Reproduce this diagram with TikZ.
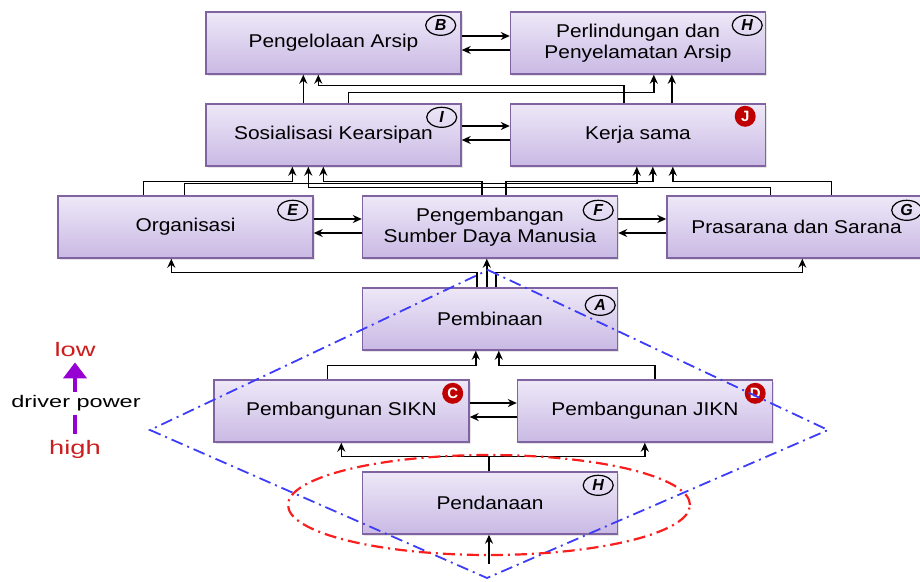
\documentclass[tikz,border=0pt]{standalone}
\usepackage{fontspec}
\setmainfont{Liberation Sans}
\newfontfamily\boxfont{Liberation Sans}[FakeStretch=1.13]
\newfontfamily\legfont{Liberation Sans}[FakeStretch=1.4]
\usetikzlibrary{arrows.meta,shapes.geometric,shadows}

\definecolor{boxtop}{RGB}{238,232,248}
\definecolor{boxbot}{RGB}{201,185,228}
\definecolor{boxline}{RGB}{128,100,162}
\definecolor{tagred}{RGB}{192,0,0}
\definecolor{legred}{RGB}{204,30,30}
\definecolor{legpurple}{RGB}{150,0,210}
\definecolor{diamondblue}{RGB}{60,60,250}
\definecolor{ellred}{RGB}{250,30,30}

\begin{document}
\begin{tikzpicture}[x=1pt,y=-1pt,
  box/.style={draw=boxline, line width=1.4pt, top color=boxtop, bottom color=boxbot,
    minimum width=255pt, minimum height=62pt, inner sep=0pt, align=center,
    font=\boxfont\fontsize{18.5}{21}\selectfont,
    drop shadow={shadow xshift=1.5pt, shadow yshift=-2pt, opacity=0.2}},
  tag/.style={ellipse, draw, line width=1.2pt, inner sep=0pt,
    minimum width=30pt, minimum height=20pt,
    font=\fontsize{16}{16}\selectfont\bfseries\itshape},
  redtag/.style={circle, fill=tagred, text=white, inner sep=0pt, minimum size=21pt,
    font=\fontsize{15}{15}\selectfont\bfseries},
  link/.style={line width=1.5pt, -{Stealth[length=9pt,width=8pt]}},
  dashdiamond/.style={draw=diamondblue, line width=1.8pt, dash pattern=on 12pt off 5pt on 2pt off 5pt},
  dashellipse/.style={draw=ellred, line width=2.2pt, dash pattern=on 12pt off 5pt on 2pt off 5pt},
  legtext/.style={inner sep=0pt, anchor=base}
]
\useasboundingbox (0,0) rectangle (920,581);
\fill[white] (0,0) rectangle (920,581);

% boxes
\node[box] (B)  at (333.5,43)  {Pengelolaan Arsip};
\node[box] (H1) at (638,43)    {Perlindungan dan\\Penyelamatan Arsip};
\node[box] (I)  at (333.5,135) {Sosialisasi Kearsipan};
\node[box] (J)  at (638,135)   {Kerja sama};
\node[box] (E)  at (185.5,227) {Organisasi};
\node[box] (F)  at (490,227)   {Pengembangan\\Sumber Daya Manusia};
\node[box, minimum width=259pt] (G) at (796.5,227) {Prasarana dan Sarana};
\node[box] (A)  at (490,319)   {Pembinaan};
\node[box] (C)  at (341.5,411) {Pembangunan SIKN};
\node[box] (D)  at (645,411)   {Pembangunan JIKN};
\node[box] (H2) at (490,503)   {Pendanaan};

% letter tags
\node[tag] (tB)  at ([xshift=-21pt,yshift=-14pt]B.north east)  {B};
\node[tag] (tH1) at ([xshift=-19pt,yshift=-14pt]H1.north east) {H};
\node[tag] (tI)  at ([xshift=-20pt,yshift=-14pt]I.north east)  {I};
\node[redtag] (tJ) at ([xshift=-21pt,yshift=-13pt]J.north east) {J};
\node[tag] (tE)  at ([xshift=-21pt,yshift=-15pt]E.north east)  {E};
\node[tag] (tF)  at ([xshift=-20pt,yshift=-15pt]F.north east)  {F};
\node[tag] (tG)  at ([xshift=-20pt,yshift=-15pt]G.north east)  {G};
\node[tag] (tA)  at ([xshift=-18pt,yshift=-18pt]A.north east)  {A};
\node[redtag] (tC) at ([xshift=-17pt,yshift=-14pt]C.north east) {C};
\node[redtag] (tD) at ([xshift=-18pt,yshift=-14pt]D.north east) {D};
\node[tag] (tH2) at ([xshift=-20pt,yshift=-14pt]H2.north east) {H};

% top row
\draw[link] ([yshift=7pt]B.east) -- ([yshift=7pt]H1.west);
\draw[link] ([yshift=-7pt]H1.west) -- ([yshift=-7pt]B.east);
\draw[link] ([xshift=98pt]I.north west) -- ([xshift=98pt]B.south west);
\draw[link] ([xshift=114pt]J.north west) -- ++(0,-18) -| ([xshift=113pt]B.south west);
\draw[link] ([xshift=143pt]I.north west) -- ++(0,-11) -| ([xshift=144pt]H1.south west);
\draw[link] ([xshift=162pt]J.north west) -- ([xshift=162pt]H1.south west);

% second row
\draw[link] ([yshift=9pt]I.east) -- ([yshift=9pt]J.west);
\draw[link] ([yshift=-5pt]J.west) -- ([yshift=-5pt]I.east);

% third row into the second
\draw[link] ([xshift=86pt]E.north west) -- ++(0,-14) -| ([xshift=87pt]I.south west);
\draw[link] ([xshift=127pt]E.north west) -- ++(0,-12) -| ([xshift=127pt]J.south west);
\draw[link] ([xshift=120pt]F.north west) -- ++(0,-14) -| ([xshift=118pt]I.south west);
\draw[link] ([xshift=144pt]F.north west) -- ++(0,-14) -| ([xshift=143pt]J.south west);
\draw[link] ([xshift=104pt]G.north west) -- ++(0,-8) -| ([xshift=103pt]I.south west);
\draw[link] ([xshift=165pt]G.north west) -- ++(0,-14) -| ([xshift=163pt]J.south west);

% third row
\draw[link] ([yshift=8pt]E.east) -- ([yshift=8pt]F.west);
\draw[link] ([yshift=-6pt]F.west) -- ([yshift=-6pt]E.east);
\draw[link] ([yshift=8pt]F.east) -- ([yshift=8pt]G.west);
\draw[link] ([yshift=-6pt]G.west) -- ([yshift=-6pt]F.east);

% Pembinaan
\draw[link] ([xshift=125pt]A.north west) -- ([xshift=125pt]F.south west);
\draw[link] ([xshift=115pt]A.north west) -- ++(0,-15) -| ([xshift=114pt]E.south west);
\draw[link] ([xshift=134pt]A.north west) -- ++(0,-15) -| ([xshift=136pt]G.south west);

% SIKN / JIKN
\draw[link] ([xshift=114pt]C.north west) -- ++(0,-14) -| ([xshift=114pt]A.south west);
\draw[link] ([xshift=138pt]D.north west) -- ++(0,-14) -| ([xshift=137pt]A.south west);
\draw[link] ([yshift=8pt]C.east) -- ([yshift=8pt]D.west);
\draw[link] ([yshift=-6pt]D.west) -- ([yshift=-6pt]C.east);

% Pendanaan
\draw[link] ([xshift=-1pt]H2.north) -- ++(0,-15) -| ([xshift=128pt]C.south west);
\draw[link] ([xshift=-1pt]H2.north) -- ++(0,-15) -| ([xshift=128pt]D.south west);
\coordinate (fund) at (489,564);
\draw[link] (fund) -- (fund |- H2.south);

% dash-dot outlines
\coordinate (dTop) at (488,270);
\coordinate (dRight) at (828,430);
\coordinate (dBottom) at (487,578);
\coordinate (dLeft) at (150,430);
\draw[dashdiamond] (dTop) -- (dRight) -- (dBottom) -- (dLeft) -- cycle;
\draw[dashellipse] (489,505) ellipse [x radius=201pt, y radius=50pt];

% driver power scale
\node[legtext, text=legred, font=\legfont\fontsize{19.5}{19.5}\selectfont] (low) at (75,356) {low};
\node[legtext, font=\legfont\fontsize{16.8}{16.8}\selectfont] (dp) at (76,407) {driver power};
\node[legtext, text=legred, font=\legfont\fontsize{19.5}{19.5}\selectfont] (high) at (75,454) {high};
\draw[legpurple, line width=4pt, -{Triangle[length=16pt,width=23pt]}, shorten <=3pt, shorten >=3pt]
  ([xshift=-1pt]dp.north) -- ([xshift=-1pt,yshift=-3pt]dp.north |- low.south);
\draw[legpurple, line width=4pt, shorten <=4pt, shorten >=6pt]
  ([xshift=-1pt]dp.south) -- ([xshift=-1pt]dp.south |- high.north);
\end{tikzpicture}
\end{document}
